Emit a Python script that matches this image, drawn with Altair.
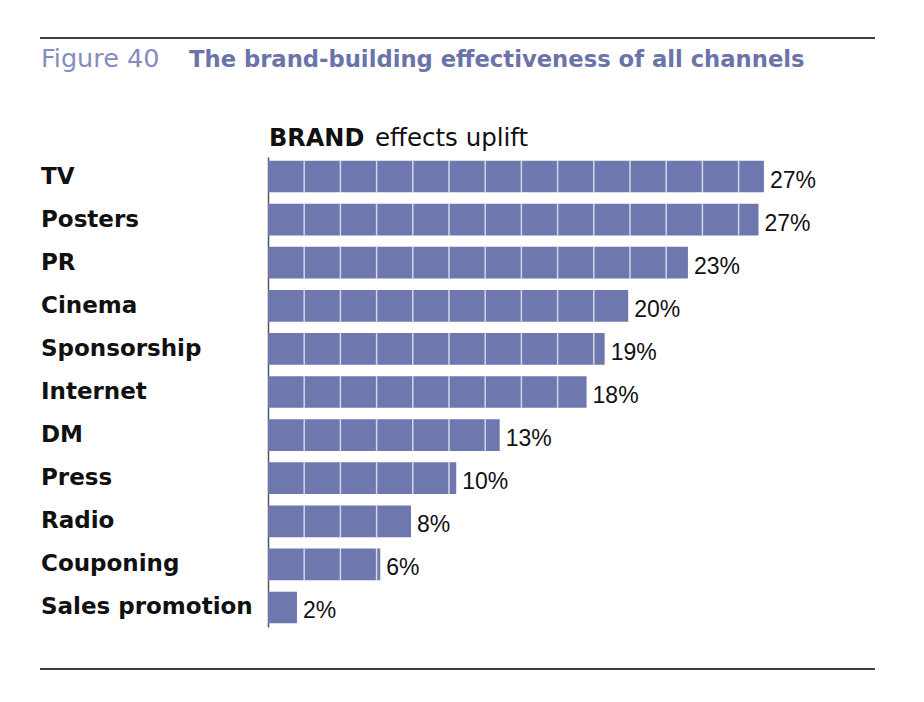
import altair as alt
import pandas as pd

channels = ["TV", "Posters", "PR", "Cinema", "Sponsorship", "Internet", "DM",
            "Press", "Radio", "Couponing", "Sales promotion"]
values = [27.4, 27.1, 23.2, 19.9, 18.6, 17.6, 12.8, 10.4, 7.9, 6.2, 1.6]
labels = ["27%", "27%", "23%", "20%", "19%", "18%", "13%", "10%", "8%", "6%", "2%"]
grid_step = 2

FONT = "Liberation Sans"
WIDE = "DejaVu Sans"
BAR = "#6e77ae"

df = pd.DataFrame({"channel": channels, "value": values, "label": labels})

seg_rows = []
for c, v in zip(channels, values):
    k = grid_step
    while k < v:
        seg_rows.append({"channel": c, "tick": k})
        k += grid_step
segs = pd.DataFrame(seg_rows)

W, H = 543, 470
x_scale = alt.Scale(domain=[0, 30])
y_scale = alt.Scale(domain=channels, paddingInner=0.265, paddingOuter=0.085)

y_enc = alt.Y("channel:N", sort=channels, scale=y_scale,
              axis=alt.Axis(title=None, labels=False, ticks=False, domain=True,
                            domainColor="#555555", domainWidth=1.5))

bars = alt.Chart(df).mark_bar(color=BAR).encode(
    x=alt.X("value:Q", scale=x_scale, axis=None),
    y=y_enc,
)

grid = alt.Chart(segs).mark_tick(color="white", thickness=1.5, bandSize=31.7, orient="vertical").encode(
    x=alt.X("tick:Q", scale=x_scale),
    y=alt.Y("channel:N", sort=channels, scale=y_scale),
)

vals = alt.Chart(df).mark_text(align="left", baseline="middle", dx=6, dy=4,
                               font=FONT, fontSize=23, color="#111111").encode(
    x=alt.X("value:Q", scale=x_scale),
    y=alt.Y("channel:N", sort=channels, scale=y_scale),
    text="label:N",
)

cats = alt.Chart(df).mark_text(align="left", baseline="middle", dy=0,
                               font=WIDE, fontSize=23, fontWeight="bold", color="#111111").encode(
    x=alt.value(-227),
    y=alt.Y("channel:N", sort=channels, scale=y_scale),
    text="channel:N",
)

brand = alt.Chart(pd.DataFrame({"t": ["BRAND"]})).mark_text(
    align="left", baseline="alphabetic", font=WIDE, fontSize=24, fontWeight="bold", color="#111111"
).encode(x=alt.value(1), y=alt.value(-11), text="t:N")
uplift = alt.Chart(pd.DataFrame({"t": ["effects uplift"]})).mark_text(
    align="left", baseline="alphabetic", font=WIDE, fontSize=24.5, color="#111111"
).encode(x=alt.value(107), y=alt.value(-11), text="t:N")

fig = alt.Chart(pd.DataFrame({"t": ["Figure 40"]})).mark_text(
    align="left", baseline="alphabetic", font=WIDE, fontSize=25.5, color="#858cc0"
).encode(x=alt.value(-227), y=alt.value(-90), text="t:N")
title = alt.Chart(pd.DataFrame({"t": ["The brand-building effectiveness of all channels"]})).mark_text(
    align="left", baseline="alphabetic", font=WIDE, fontSize=22.7, fontWeight="bold", color="#6b73ab"
).encode(x=alt.value(-79), y=alt.value(-90), text="t:N")

top_rule = alt.Chart(pd.DataFrame({"a": [0]})).mark_rule(color="#000000", strokeWidth=1.5).encode(
    x=alt.value(-228), x2=alt.value(607), y=alt.value(-119))
bot_rule = alt.Chart(pd.DataFrame({"a": [0]})).mark_rule(color="#000000", strokeWidth=1.5).encode(
    x=alt.value(-228), x2=alt.value(607), y=alt.value(512))

chart = alt.layer(bars, grid, vals, cats, brand, uplift, fig, title, top_rule, bot_rule).properties(
    width=W, height=H,
    background="white",
    autosize=alt.AutoSizeParams(type="none"),
    padding={"left": 260, "top": 149, "right": 100, "bottom": 60},
).configure_view(strokeWidth=0)

chart.save("out.html", embed_options={"renderer": "svg", "actions": False})
